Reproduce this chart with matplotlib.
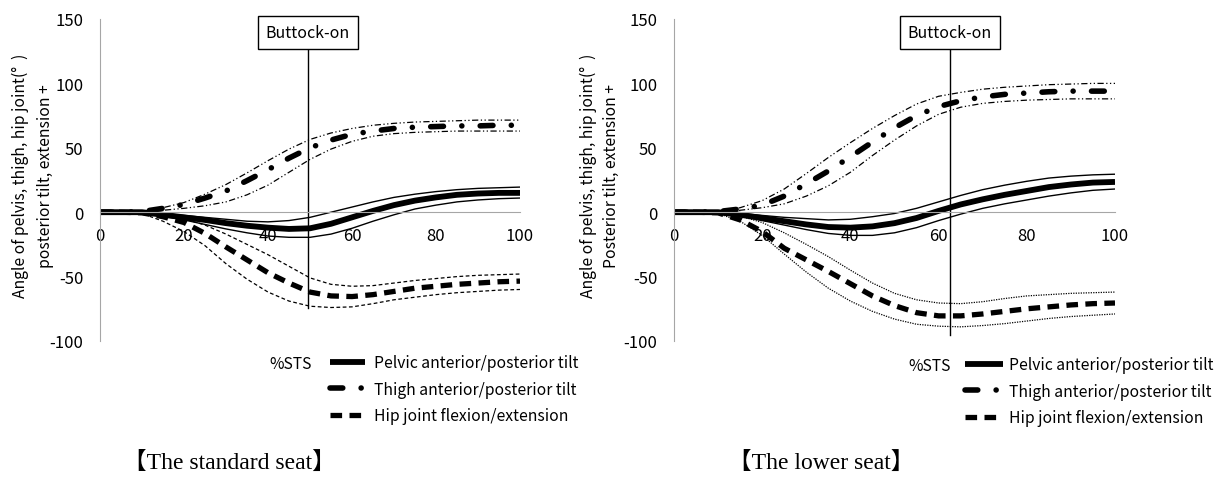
import numpy as np
import matplotlib
matplotlib.use('Agg')
import matplotlib.pyplot as plt

plt.rcParams['font.family'] = ['Noto Sans CJK JP', 'DejaVu Sans']
plt.rcParams['axes.unicode_minus'] = False

# %STS
x = [0, 5, 10, 15, 20, 25, 30, 35, 40, 45, 50, 55, 60, 65, 70, 75, 80, 85, 90, 95, 100]

# standard seat
std_pel = [0, 0, 0, -2, -4, -6, -8.5, -10.5, -12, -13, -12.5, -9, -4, 1, 5.5, 9, 11.5, 13.5, 14.5, 15, 15]
std_pel_hi = [0, 0, 0, -1, -2.5, -4, -5.5, -7, -7.5, -6.5, -4, 0, 4, 8, 11.5, 14, 16, 17.5, 18.5, 19, 19.5]
std_pel_lo = [0, 0, 0, -3, -6, -9.5, -13, -16, -18.5, -19.5, -19.5, -17, -12.5, -7, -2, 2.5, 5.5, 8, 9.5, 10.5, 11]
std_thi = [0, 0, 0.5, 3, 6, 11, 16.5, 24.5, 33, 42, 50, 56, 60.5, 63, 65, 66, 66.5, 67, 67, 67.5, 67.5]
std_thi_hi = [0, 0, 0.5, 3.5, 7.5, 14, 21.5, 30.5, 40, 49, 56.5, 61.5, 65, 67.5, 69, 70, 70.5, 71, 71.5, 71.5, 71.5]
std_thi_lo = [0, 0, 0.5, 1.5, 3, 5, 8, 13.5, 21, 31, 41, 49, 55, 59, 61, 62, 62.5, 63, 63, 63, 63]
std_hip = [0, 0, -0.5, -3.5, -8, -16.5, -27, -37, -47, -55, -62, -65, -65.5, -64, -61.5, -59, -57.5, -56, -55, -54, -53.5]
std_hip_hi = [0, 0, -0.5, -2.5, -5, -10, -17, -25, -33, -42, -51, -56, -57.5, -57, -55, -53, -51.5, -50, -49, -48.5, -48]
std_hip_lo = [0, 0, -1, -7, -15, -26, -40, -52, -62, -69, -73, -74, -73.5, -71, -68, -66, -64, -62.5, -61.5, -60.5, -60]

# lower seat
low_pel = [0, 0, 0, -2, -4.5, -7, -9.5, -11.5, -12, -11, -8.5, -4.5, 1, 6, 10, 13.5, 16.5, 19.5, 21.5, 23, 23.5]
low_pel_hi = [0, 0, 0, -1, -2.5, -4, -5, -6, -5.5, -3.5, -1, 3, 8, 13, 17.5, 21, 24, 26.5, 28, 29, 29.5]
low_pel_lo = [0, 0, 0, -3, -6.5, -10, -13.5, -16.5, -18, -18, -16, -12, -6.5, -1.5, 3, 6.5, 9.5, 12.5, 15, 17, 18]
low_thi = [0, 0, 0.5, 2.5, 5.5, 12.5, 22, 32, 43, 54.5, 65.5, 75, 82, 86.5, 89.5, 91.5, 92.5, 93.5, 94, 94, 94]
low_thi_hi = [0, 0, 0.5, 3.5, 9, 18, 30, 42.5, 54, 65, 75, 84, 90, 93, 95.5, 97, 98, 99, 99.5, 100, 100]
low_thi_lo = [0, 0, 0.5, 1.5, 3.5, 6.5, 12.5, 20.5, 31, 44, 56, 67, 76, 81.5, 84.5, 86, 87, 87.5, 88, 88, 88]
low_hip = [0, 0, -0.5, -6, -15, -28, -37, -46, -55.5, -65, -72.5, -78, -80.5, -80.5, -79, -77, -75, -73.5, -72, -71, -70.5]
low_hip_hi = [0, 0, -0.5, -3, -8, -16, -25, -34.5, -45, -55, -63, -68, -70.5, -71, -69.5, -67, -65, -64, -63, -62.5, -62]
low_hip_lo = [0, 0, -1, -7, -18, -32.5, -46.5, -59, -69, -77, -83, -87, -88.5, -89, -88, -86.5, -84.5, -82.5, -81, -80, -79]

buttock_std = 49.5
buttock_low = 62.5
labels = ['Pelvic anterior/posterior tilt', 'Thigh anterior/posterior tilt', 'Hip joint flexion/extension']

grey = '#a6a6a6'
fs = 11.3

fig = plt.figure(figsize=(12.24, 4.81), dpi=100)
W, H = 1224.0, 481.0


def panel(rect, pel, pel_hi, pel_lo, thi, thi_hi, thi_lo, hip, hip_hi, hip_lo, band_style, bx, line_bottom):
    ax = fig.add_axes(rect)
    # +/- SD bands
    ax.plot(x, pel_hi, color='k', lw=1)
    ax.plot(x, pel_lo, color='k', lw=1)
    ax.plot(x, thi_hi, color='k', lw=0.9, ls=(0, (5, 2, 1, 2, 1, 2)))
    ax.plot(x, thi_lo, color='k', lw=0.9, ls=(0, (5, 2, 1, 2, 1, 2)))
    ax.plot(x, hip_hi, color='k', lw=0.9, ls=band_style)
    ax.plot(x, hip_lo, color='k', lw=0.9, ls=band_style)
    # means
    l1, = ax.plot(x, pel, color='k', lw=4.2, solid_capstyle='butt')
    l2, = ax.plot(x, thi, color='k', lw=4, ls=(0, (2.3, 3.3, 0.01, 3.3)), dash_capstyle='round')
    l3, = ax.plot(x, hip, color='k', lw=3.8, ls=(0, (2.2, 1.4)))

    ax.plot([bx, bx], [line_bottom, 128], color='k', lw=1)
    ax.text(bx, 139.5, 'Buttock-on', ha='center', va='center', fontsize=11.5,
            bbox=dict(boxstyle='square,pad=0.5', fc='white', ec='k', lw=1))

    ax.set_xlim(0, 100)
    ax.set_ylim(-100, 150)
    ax.set_xticks(range(0, 101, 20))
    ax.set_yticks(range(-100, 151, 50))
    ax.spines['top'].set_visible(False)
    ax.spines['right'].set_visible(False)
    ax.spines['bottom'].set_position(('data', 0))
    ax.spines['bottom'].set_color(grey)
    ax.spines['left'].set_color(grey)
    ax.tick_params(axis='y', length=0, pad=12, labelsize=12)
    ax.tick_params(axis='x', length=0, pad=11, labelsize=12)
    ax.set_axisbelow(True)
    ax.patch.set_alpha(0)
    return ax, [l1, l2, l3]


ax1, h1 = panel([100 / W, 1 - 342 / H, 420 / W, 322 / H],
                std_pel, std_pel_hi, std_pel_lo, std_thi, std_thi_hi, std_thi_lo,
                std_hip, std_hip_hi, std_hip_lo, (0, (3, 2)), buttock_std, -74)
ax2, h2 = panel([674 / W, 1 - 342 / H, 441 / W, 322 / H],
                low_pel, low_pel_hi, low_pel_lo, low_thi, low_thi_hi, low_thi_lo,
                low_hip, low_hip_hi, low_hip_lo, (0, (1, 1)), buttock_low, -95)

fig.text(33 / W, 1 - 176 / H, 'Angle of pelvis, thigh, hip joint(°  )\nposterior tilt, extension +',
         rotation=90, ha='center', va='center', multialignment='center', fontsize=fs, linespacing=1.65)
fig.text(600 / W, 1 - 176 / H, 'Angle of pelvis, thigh, hip joint(°  )\nPosterior tilt, extension +',
         rotation=90, ha='center', va='center', multialignment='center', fontsize=fs, linespacing=1.5)

# legends
fig.text(291 / W, 1 - 365 / H, '%STS', ha='center', va='center', fontsize=fs)
fig.text(930 / W, 1 - 367 / H, '%STS', ha='center', va='center', fontsize=fs)
fig.legend(h1, labels, loc='upper left', bbox_to_anchor=(330 / W, 1 - 355 / H), frameon=False,
           fontsize=fs, handlelength=2.2, handletextpad=0.6, labelspacing=0.62, borderpad=0, borderaxespad=0)
fig.legend(h2, labels, loc='upper left', bbox_to_anchor=(965 / W, 1 - 357 / H), frameon=False,
           fontsize=fs, handlelength=2.4, handletextpad=0.4, labelspacing=0.62, borderpad=0, borderaxespad=0)

# captions
cap_font = ['Liberation Serif', 'Noto Sans CJK JP']
fig.text(229 / W, 1 - 463 / H, '【The standard seat】', ha='center', va='center', fontsize=17, family=cap_font)
fig.text(821 / W, 1 - 463 / H, '【The lower seat】', ha='center', va='center', fontsize=17, family=cap_font)

fig.savefig('out.png', dpi=100)
